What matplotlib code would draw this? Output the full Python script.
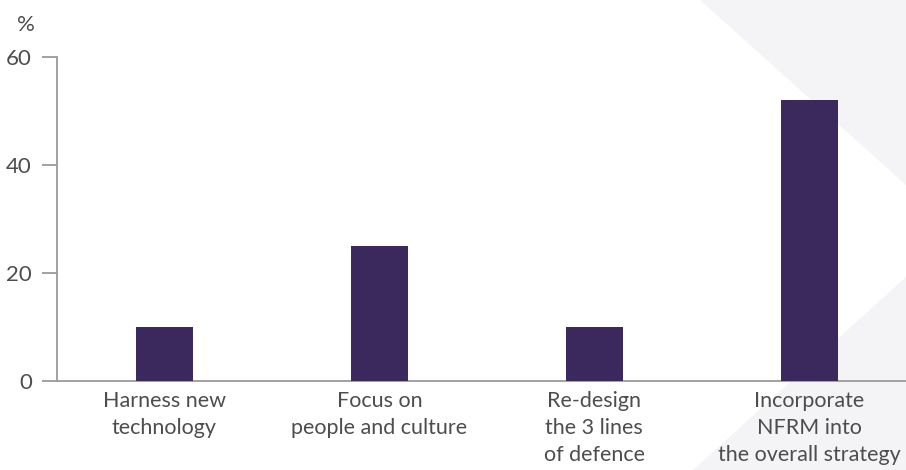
import matplotlib.pyplot as plt
from matplotlib.patches import Polygon

# Data
categories = ['Harness new\ntechnology', 'Focus on\npeople and culture',
              'Re-design\nthe 3 lines\nof defence',
              'Incorporate\nNFRM into\nthe overall strategy']
values = [10, 25, 10, 52]
yticks = [0, 20, 40, 60]

bar_color = '#3b285c'
text_color = '#4d4d4d'
axis_color = '#9a9a9a'

plt.rcParams['font.family'] = ['Lato', 'DejaVu Sans']

fig = plt.figure(figsize=(9.06, 4.70), dpi=100)

# light decorative shapes in the background
fig.patches.append(Polygon([(700 / 906, 1), (1, 1), (1, 1 - 185 / 470)],
                           closed=True, transform=fig.transFigure,
                           facecolor='#f4f4f6', edgecolor='none', zorder=-5))
fig.patches.append(Polygon([(1, 1 - 277 / 470), (1, 0), (693 / 906, 0)],
                           closed=True, transform=fig.transFigure,
                           facecolor='#f4f4f6', edgecolor='none', zorder=-5))

left = 57 / 906
bottom = 1 - 381.3 / 470
top = 1 - 57.3 / 470
ax = fig.add_axes([left, bottom, 1 - left, top - bottom])
ax.set_zorder(2)
ax.patch.set_alpha(0)

x = range(len(categories))
ax.bar(x, values, width=0.265, color=bar_color, zorder=3)

ax.set_xlim(-0.5, 3.45)
ax.set_ylim(0, 60)
ax.set_yticks(yticks)
ax.set_yticklabels([str(t) for t in yticks])
ax.set_xticks(list(x))
ax.set_xticklabels(categories, linespacing=1.45)

for s in ['top', 'right']:
    ax.spines[s].set_visible(False)
for s in ['left', 'bottom']:
    ax.spines[s].set_color(axis_color)
    ax.spines[s].set_linewidth(1.3)

ax.tick_params(axis='y', length=11, width=1.3, color=axis_color, pad=7,
               labelsize=16, labelcolor=text_color)
ax.tick_params(axis='x', length=0, pad=7, labelsize=15.5, labelcolor=text_color)

fig.text(26 / 906, 1 - 25 / 470, '%', ha='center', va='center',
         fontsize=16, color=text_color)

fig.savefig('out.png', dpi=100)
